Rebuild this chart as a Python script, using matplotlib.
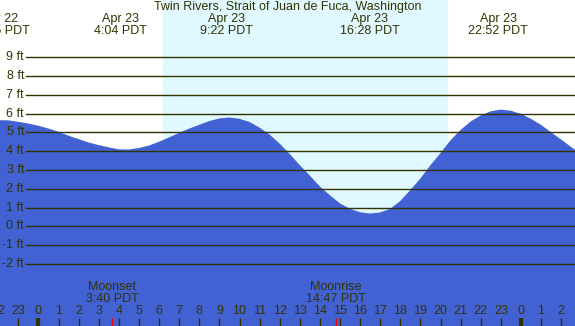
import matplotlib
matplotlib.use('Agg')
import matplotlib.pyplot as plt
import matplotlib.transforms as mtransforms

plt.rcParams['font.family'] = ['Liberation Sans', 'DejaVu Sans']

TITLE = 'Twin Rivers, Strait of Juan de Fuca, Washington'

# tide height (ft) read every half hour off the chart, hour 0 = Apr 23 00:00
hours = [i / 2 for i in range(-4, 55)]
heights = [5.65, 5.64, 5.56, 5.47, 5.35, 5.20, 5.03, 4.82, 4.64, 4.46,
           4.32, 4.20, 4.10, 4.09, 4.17, 4.30, 4.50, 4.73, 4.97, 5.20,
           5.40, 5.60, 5.74, 5.79, 5.72, 5.55, 5.25, 4.88, 4.40, 3.85,
           3.25, 2.70, 2.12, 1.65, 1.22, 0.93, 0.75, 0.68, 0.74, 0.93,
           1.35, 1.93, 2.55, 3.25, 3.90, 4.58, 5.13, 5.58, 5.90, 6.12,
           6.21, 6.15, 5.98, 5.72, 5.40, 5.00, 4.62, 4.22, 3.85]

# high / low tide labels
extreme_dates = ['Apr 22', 'Apr 23', 'Apr 23', 'Apr 23', 'Apr 23']
extreme_times = ['22:05', '4:04', '9:22', '16:28', '22:52']
extreme_day_offset = [-1, 0, 0, 0, 0]

sunrise = 6.19
sunset = 20.32

moon_labels = ['Moonset', 'Moonrise']
moon_times = ['3:40', '14:47']

ft_ticks = list(range(-2, 10))
hour_ticks = list(range(-2, 27))

TEXT = '#333300'
NIGHT = '#B0C4DE'
DAY = '#E0F8FF'
WATER = '#4262D3'


def to_hours(t, day=0):
    h, m = t.split(':')
    return day * 24 + int(h) + int(m) / 60.0


fig = plt.figure(figsize=(5.75, 3.26), dpi=100)
ax = fig.add_axes([0, 0, 1, 1])
ax.set_facecolor(NIGHT)
ax.set_xlim(-1.915, 26.69)
ax.set_ylim(-5.3, 12.04)
ax.axis('off')
ax.patch.set_visible(True)

ax.axvspan(sunrise, sunset, color=DAY, zorder=0)
ax.fill_between(hours, heights, -6, color=WATER, lw=0, zorder=1)

for v in ft_ticks:
    ax.axhline(v, xmin=26 / 575, xmax=1, color=TEXT, lw=1, zorder=2)
    ax.text(24 / 575, v, '%d ft' % v, transform=ax.get_yaxis_transform(),
            ha='right', va='center', fontsize=9, color=TEXT)

trans = mtransforms.blended_transform_factory(ax.transData, ax.transAxes)

for h in hour_ticks:
    ax.text(h, 1 - 311 / 326, str(h % 24), transform=trans, ha='center',
            va='center', fontsize=9, color=TEXT)
    if h % 24 == 0:
        ax.vlines(h, 0, 8 / 326, transform=trans, color=TEXT, lw=3)
    else:
        ax.vlines(h, 0, 8 / 326, transform=trans, color=TEXT, lw=1)

for lab, t in zip(moon_labels, moon_times):
    h = to_hours(t)
    ax.vlines(h, 0, 8 / 326, transform=trans, color='red', lw=1, zorder=5)
    ax.text(h, 1 - 287 / 326, lab, transform=trans, ha='center', va='center',
            fontsize=9, color=TEXT)
    ax.text(h, 1 - 299 / 326, t + ' PDT', transform=trans, ha='center',
            va='center', fontsize=9, color=TEXT)

for d, t, off in zip(extreme_dates, extreme_times, extreme_day_offset):
    h = to_hours(t, off)
    ax.text(h, 1 - 19 / 326, d, transform=trans, ha='center', va='center',
            fontsize=9, color=TEXT)
    ax.text(h, 1 - 31 / 326, t + ' PDT', transform=trans, ha='center',
            va='center', fontsize=9, color=TEXT)

ax.text(0.5, 1 - 7 / 326, TITLE, transform=ax.transAxes, ha='center',
        va='center', fontsize=9, color=TEXT)

fig.savefig('out.png', dpi=100)
